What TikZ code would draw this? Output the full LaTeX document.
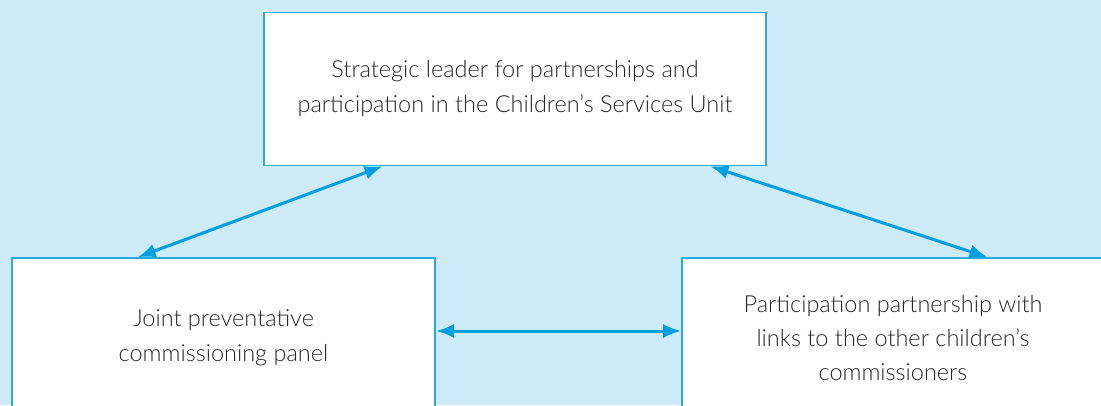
\documentclass[tikz,border=0pt]{standalone}
\usepackage{fontspec}
\setmainfont{Lato}[UprightFont=* Light]
\usetikzlibrary{arrows.meta,calc}
\definecolor{bgblue}{HTML}{CDEBF8}
\definecolor{boxblue}{HTML}{2BAAE2}
\definecolor{arrblue}{HTML}{009FE3}
\definecolor{txtgray}{HTML}{262626}
\begin{document}
\begin{tikzpicture}[x=1pt,y=1pt,
  boxnode/.style={draw=boxblue,line width=1.6pt,fill=white,align=center,
    text=txtgray,font=\fontsize{23.5}{35}\selectfont,inner sep=0pt},
  link/.style={draw=arrblue,line width=3pt,{Latex[length=18pt,width=14pt]}-{Latex[length=18pt,width=14pt]}}]
\useasboundingbox (0,0) rectangle (1101,405);
\clip (0,0) rectangle (1101,405);
\fill[bgblue] (0,0) rectangle (1101,405);
\node[boxnode,minimum width=502pt,minimum height=153pt] (top) at (515,316)
  {Strategic leader for partnerships and\\participation in the Children’s Services Unit};
\node[boxnode,minimum width=423pt,minimum height=160pt] (left) at (223.5,67)
  {Joint preventative\\commissioning panel};
\node[boxnode,minimum width=422pt,minimum height=160pt,font=\fontsize{23.5}{34}\selectfont] (right) at (893,67)
  {Participation partnership with\\links to the other children’s\\commissioners};
\draw[link] ($(left.north west)!0.298!(left.north east)$) -- ($(top.south west)!0.237!(top.south east)$);
\draw[link] ($(top.south west)!0.888!(top.south east)$) -- ($(right.north west)!0.723!(right.north east)$);
\draw[link] ([yshift=7pt]left.east) -- ([yshift=7pt]right.west);
\end{tikzpicture}
\end{document}
